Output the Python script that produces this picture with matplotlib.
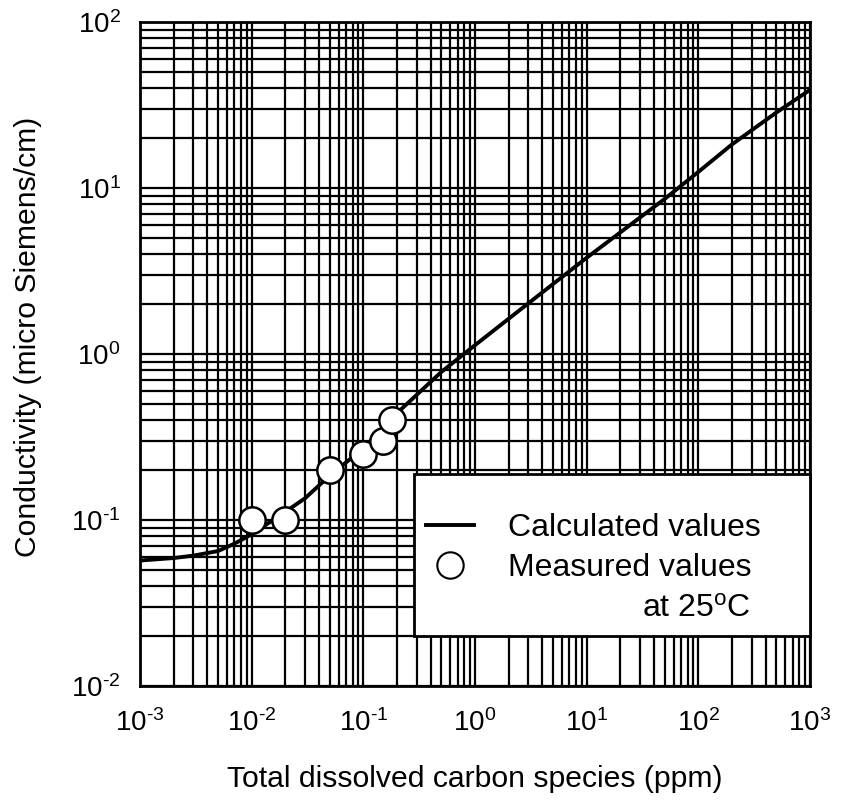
import numpy as np
import matplotlib
matplotlib.use("Agg")
import matplotlib.pyplot as plt
from matplotlib.lines import Line2D
from matplotlib.ticker import FuncFormatter

plt.rcParams['font.family'] = ['Liberation Sans', 'DejaVu Sans']
plt.rcParams['mathtext.fontset'] = 'custom'
plt.rcParams['mathtext.rm'] = 'Liberation Sans'
plt.rcParams['mathtext.it'] = 'Liberation Sans:italic'

# Calculated conductivity curve (ppm total dissolved carbon -> uS/cm)
ppm_calc = [1e-3, 2e-3, 3e-3, 5e-3, 7e-3, 1e-2, 2e-2, 3e-2, 5e-2, 0.1, 0.2, 0.5,
            1, 2, 5, 10, 20, 50, 100, 200, 500, 1000]
cond_calc = [0.057, 0.059, 0.061, 0.065, 0.072, 0.082, 0.112, 0.135, 0.185, 0.27, 0.44, 0.78,
             1.13, 1.63, 2.64, 3.8, 5.4, 8.6, 12.5, 18.3, 28.5, 39.0]

# Measured values at 25 C
ppm_meas = [0.01, 0.02, 0.05, 0.1, 0.15, 0.18]
cond_meas = [0.1, 0.1, 0.2, 0.25, 0.3, 0.4]


def pow10(v, pos):
    # 10^n labels with a plain hyphen for negative exponents
    n = int(round(np.log10(v)))
    e = r'\text{-}%d' % -n if n < 0 else '%d' % n
    return r'$\mathdefault{10^{%s}}$' % e


fig = plt.figure(figsize=(8.43, 8.0), dpi=100)
ax = fig.add_axes([140/843, 1-686/800, 670/843, 664/800])

ax.set_xscale('log')
ax.set_yscale('log')
ax.set_xlim(1e-3, 1e3)
ax.set_ylim(1e-2, 1e2)
ax.xaxis.set_major_formatter(FuncFormatter(pow10))
ax.yaxis.set_major_formatter(FuncFormatter(pow10))

# dense log grid, majors and minors drawn alike
ax.grid(True, which='both', color='black', linewidth=1.6)
ax.set_axisbelow(True)
ax.tick_params(which='both', length=0, labelsize=20)
ax.tick_params(axis='x', pad=17)
ax.tick_params(axis='y', pad=14)
for s in ax.spines.values():
    s.set_linewidth(2.0)

ax.plot(ppm_calc, cond_calc, color='black', linewidth=2.8, zorder=3)
ax.plot(ppm_meas, cond_meas, 'o', markersize=19, markerfacecolor='white',
        markeredgecolor='black', markeredgewidth=1.8, zorder=4)

ax.set_xlabel('Total dissolved carbon species (ppm)', fontsize=21.7, labelpad=20)
ax.set_ylabel('Conductivity (micro Siemens/cm)', fontsize=21.7)
ax.yaxis.set_label_coords(-0.146, 0.526)

h_line = Line2D([], [], color='black', linewidth=2.8)
h_circ = Line2D([], [], marker='o', linestyle='none', markersize=19,
                markerfacecolor='white', markeredgecolor='black', markeredgewidth=1.5)
h_none = Line2D([], [], linestyle='none')
leg = ax.legend([h_line, h_circ, h_none],
                ['Calculated values', 'Measured values', r'at 25$^{\mathrm{o}}$C'],
                loc='lower left', bbox_to_anchor=(274/670, 50/664, 396/670, 0.1),
                mode='expand', borderaxespad=0, fontsize=23, frameon=True,
                fancybox=False, edgecolor='black', framealpha=1,
                title=' ', title_fontsize=14,
                handlelength=1.5, handletextpad=1.05, labelspacing=0.325, borderpad=0.38)
leg.get_frame().set_linewidth(2.0)
leg.set_zorder(5)

# right-align the temperature note under "Measured values"
fig.canvas.draw()
r = fig.canvas.get_renderer()
txt = leg.get_texts()
dx = txt[1].get_window_extent(r).x1 - txt[2].get_window_extent(r).x1
txt[2].set_x(dx)

fig.savefig('out.png', dpi=100)
